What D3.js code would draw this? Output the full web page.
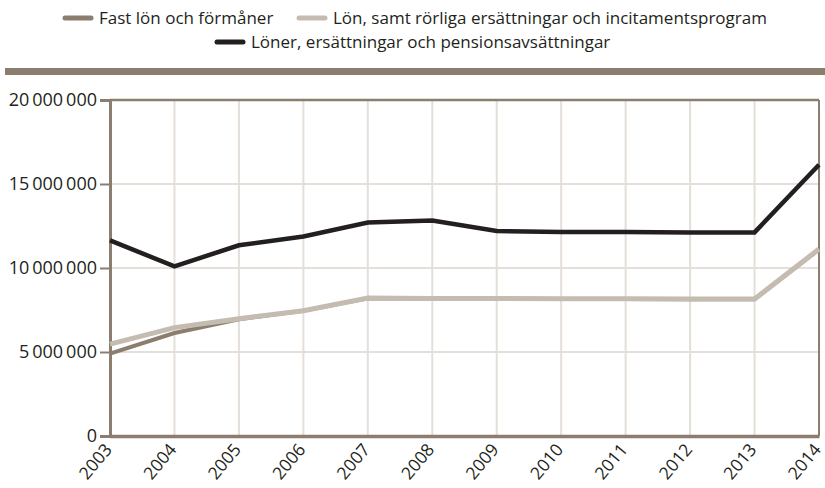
<!DOCTYPE html>
<html><head><meta charset="utf-8">
<script src="https://cdn.jsdelivr.net/npm/d3@7"></script>
<style>
html,body{margin:0;padding:0;background:#fff;}
svg{display:block;font-family:"Open Sans",sans-serif;}
</style></head>
<body>
<svg id="chart" width="825" height="488"></svg>
<script>
const years = ["2003","2004","2005","2006","2007","2008","2009","2010","2011","2012","2013","2014"];
const fastLon = [4900000,6130000,6950000,7450000,8200000,8170000,8170000,8160000,8160000,8140000,8140000,11100000];
const rorliga = [5470000,6450000,6980000,7460000,8210000,8180000,8180000,8170000,8170000,8150000,8150000,11130000];
const pension = [11640000,10100000,11350000,11880000,12710000,12830000,12200000,12150000,12150000,12120000,12120000,16150000];
const seriesNames = ["Fast lön och förmåner","Lön, samt rörliga ersättningar och incitamentsprogram","Löner, ersättningar och pensionsavsättningar"];
const yTicks = [0,5000000,10000000,15000000,20000000];
const colors = ["#8b7e6e","#c5bcb1","#231f20"];

const svg = d3.select("#chart");
const x = d3.scalePoint().domain(years).range([110,819]);
const y = d3.scaleLinear().domain([0,20000000]).range([436,100]);
const fmt = v => d3.format(",")(v).replace(/,/g,"\u2009");

// top bar
svg.append("rect").attr("x",5).attr("y",68).attr("width",820).attr("height",7).attr("fill","#8b7e6e");

// grid
const g = svg.append("g");
g.selectAll(".vg").data(years.slice(1,-1)).join("line")
  .attr("x1",d=>x(d)).attr("x2",d=>x(d)).attr("y1",y(20000000)).attr("y2",y(0))
  .attr("stroke","#e4dfd8").attr("stroke-width",2);
g.selectAll(".hg").data(yTicks.slice(1,-1)).join("line")
  .attr("x1",x(years[0])).attr("x2",x(years[years.length-1])).attr("y1",d=>y(d)).attr("y2",d=>y(d))
  .attr("stroke","#e4dfd8").attr("stroke-width",2);

// frame
const axisColor = "#8b7e6e";
svg.append("line").attr("x1",x(years[0])).attr("x2",x(years[11])).attr("y1",y(20000000)).attr("y2",y(20000000)).attr("stroke",axisColor).attr("stroke-width",2.5);
svg.append("line").attr("x1",x(years[11])).attr("x2",x(years[11])).attr("y1",y(20000000)).attr("y2",y(0)).attr("stroke",axisColor).attr("stroke-width",2);

// y axis
const yAxis = d3.axisLeft(y).tickValues(yTicks).tickSize(10).tickPadding(3).tickFormat(fmt);
const ya = svg.append("g").attr("transform",`translate(${x(years[0])},0)`).call(yAxis);
ya.select(".domain").attr("stroke",axisColor).attr("stroke-width",3);
ya.selectAll(".tick line").attr("stroke",axisColor).attr("stroke-width",2);
ya.selectAll(".tick text").attr("fill","#231f20").style("font-size","18px").style("font-family","Open Sans, sans-serif");

// x axis
const xAxis = d3.axisBottom(x).tickSize(0).tickFormat("");
const xa = svg.append("g").attr("transform",`translate(0,${y(0)})`).call(xAxis);
xa.select(".domain").attr("stroke",axisColor).attr("stroke-width",3.5);
svg.append("g").selectAll("text").data(years).join("text")
  .attr("transform",d=>`translate(${x(d)+3},450) rotate(-50)`)
  .attr("text-anchor","end").attr("fill","#231f20")
  .style("font-size","17.5px").text(d=>d);

// lines
const line = d3.line().x((d,i)=>x(years[i])).y(d=>y(d));
const data = [fastLon, rorliga, pension];
const widths = [4,5,4.5];
data.forEach((s,i)=>{
  svg.append("path").attr("d",line(s)).attr("fill","none").attr("stroke",colors[i])
    .attr("stroke-width",widths[i]).attr("stroke-linejoin","miter");
});

// legend
const leg = svg.append("g").style("font-size","17px").attr("fill","#231f20");
const items = [
  {i:0, x:63, y:18},
  {i:1, x:297, y:18},
  {i:2, x:215, y:42}
];
items.forEach(it=>{
  leg.append("line").attr("x1",it.x+2).attr("x2",it.x+28).attr("y1",it.y).attr("y2",it.y)
    .attr("stroke",colors[it.i]).attr("stroke-width",5).attr("stroke-linecap","round");
  leg.append("text").attr("x",it.x+36).attr("y",it.y+6).text(seriesNames[it.i]);
});
</script>
</body></html>
